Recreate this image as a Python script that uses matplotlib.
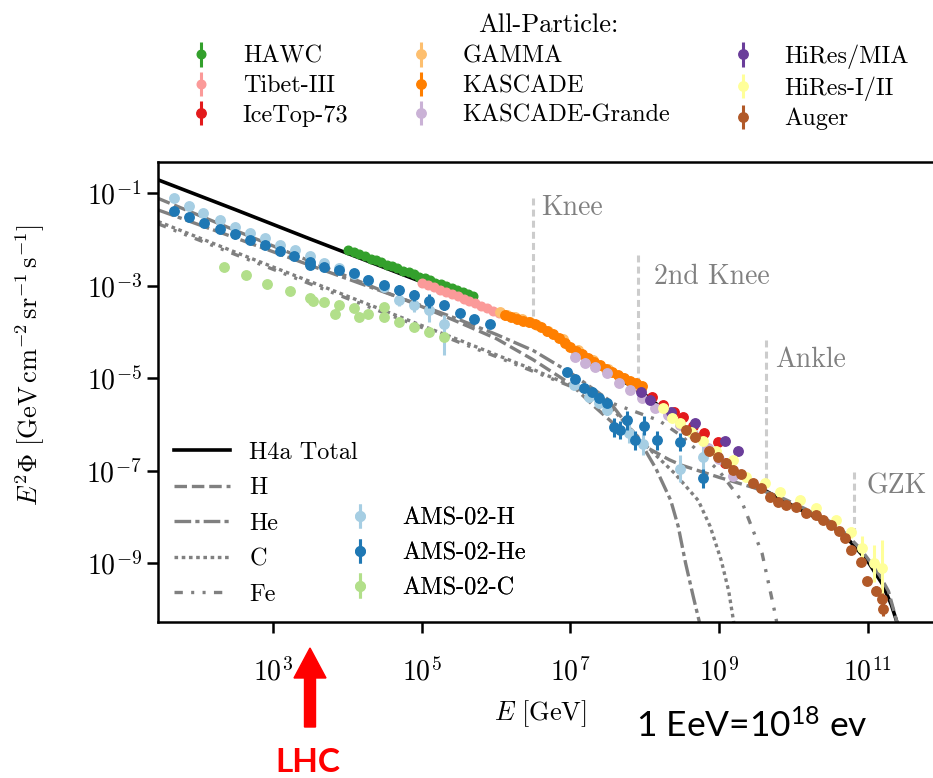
import matplotlib
matplotlib.use('Agg')
import matplotlib.pyplot as plt
import numpy as np
from matplotlib.patches import FancyArrow
from matplotlib.transforms import IdentityTransform

plt.rcParams['font.family'] = ['cmr10', 'DejaVu Serif']
plt.rcParams['mathtext.fontset'] = 'cm'
plt.rcParams['mathtext.rm'] = 'Lato'
plt.rcParams['mathtext.it'] = 'Lato:italic'
plt.rcParams['mathtext.bf'] = 'Lato:bold'
plt.rcParams['axes.formatter.use_mathtext'] = True
plt.rcParams['lines.scale_dashes'] = False

# ---------------- data: log10(E/GeV), log10(E^2 Phi) ----------------
# H4a model curves
total_logE = [1.45, 2.5, 3.5, 4.99, 5.5, 6.0, 6.5, 7.0, 7.5, 8.0, 8.5, 9.0, 9.5, 10.0, 10.5, 10.75, 11.0, 11.2, 11.32, 11.40]
total_logF = [-0.71, -1.36, -1.99, -2.91, -3.24, -3.56, -3.84, -4.30, -4.85, -5.35, -6.00, -6.72, -7.32, -7.76, -8.17, -8.50, -8.95, -9.45, -9.90, -10.30]

H_logE = [1.45, 2.5, 3.5, 4.5, 5.0, 5.5, 6.0, 6.5, 7.0, 7.33, 7.56, 7.87, 8.0, 8.33, 8.5, 9.0, 9.46, 9.8, 10.2, 10.5, 10.7, 10.9, 11.05, 11.17, 11.28, 11.40]
H_logF = [-1.11, -1.81, -2.47, -3.13, -3.45, -3.79, -4.14, -4.60, -5.12, -5.62, -5.95, -6.35, -6.47, -6.76, -6.88, -7.14, -7.36, -7.55, -7.85, -8.10, -8.35, -8.68, -9.00, -9.28, -9.60, -10.30]

He_logE = [1.45, 2.5, 3.5, 4.5, 5.0, 5.5, 6.0, 6.5, 7.0, 7.5, 7.95, 8.15, 8.35, 8.45, 8.55, 8.65, 8.74]
He_logF = [-1.36, -1.97, -2.56, -3.14, -3.43, -3.73, -4.05, -4.40, -4.88, -5.45, -6.40, -6.95, -7.64, -8.20, -9.00, -9.70, -10.30]

C_logE = [1.45, 2.5, 3.5, 4.5, 5.0, 5.5, 6.0, 6.5, 7.0, 7.5, 8.05, 8.4, 8.72, 8.88, 9.03, 9.13, 9.20]
C_logF = [-1.61, -2.28, -2.91, -3.54, -3.86, -4.17, -4.49, -4.81, -5.15, -5.55, -6.51, -7.05, -7.64, -8.20, -8.94, -9.60, -10.30]

Fe_logE = [1.45, 2.5, 3.5, 4.5, 5.0, 5.5, 6.0, 6.5, 7.0, 7.5, 8.19, 8.5, 9.0, 9.30, 9.58, 9.74, 9.78]
Fe_logF = [-1.66, -2.33, -2.96, -3.59, -3.90, -4.22, -4.53, -4.85, -5.17, -5.50, -5.91, -6.25, -7.00, -7.64, -8.79, -9.98, -10.30]

# all-particle measurements
hawc_logE = [4.01, 4.09, 4.16, 4.23, 4.31, 4.38, 4.45, 4.53, 4.60, 4.67, 4.74, 4.82, 4.89, 4.96, 5.04, 5.11, 5.18, 5.26, 5.33, 5.40, 5.47, 5.55, 5.62, 5.69]
hawc_logF = [-2.23, -2.27, -2.32, -2.36, -2.41, -2.45, -2.49, -2.54, -2.58, -2.62, -2.67, -2.71, -2.75, -2.80, -2.84, -2.88, -2.93, -2.97, -3.01, -3.05, -3.10, -3.14, -3.18, -3.23]

tibet_logE = [5.00, 5.08, 5.16, 5.24, 5.32, 5.40, 5.48, 5.56, 5.64, 5.72, 5.80, 5.88, 5.96, 6.04, 6.12]
tibet_logF = [-2.93, -2.98, -3.03, -3.08, -3.13, -3.18, -3.23, -3.28, -3.33, -3.38, -3.44, -3.49, -3.54, -3.59, -3.64]

icetop_logE = [7.95, 8.10, 8.25, 8.40, 8.51, 8.65, 8.80, 8.98, 9.08]
icetop_logF = [-5.20, -5.41, -5.58, -5.72, -5.84, -6.02, -6.18, -6.38, -6.84]

gamma_logE = [6.05, 6.15, 6.25, 6.35, 6.45, 6.55, 6.70, 6.90, 7.10, 7.30, 7.50, 7.70, 7.90]
gamma_logF = [-3.57, -3.62, -3.67, -3.72, -3.78, -3.85, -3.97, -4.15, -4.38, -4.60, -4.80, -5.00, -5.15]

kascade_logE = [6.12, 6.20, 6.28, 6.36, 6.44, 6.52, 6.60, 6.68, 6.76, 6.84, 6.92, 7.00, 7.08, 7.16, 7.24, 7.32, 7.40, 7.48, 7.56, 7.64, 7.72, 7.80, 7.88, 7.96]
kascade_logF = [-3.64, -3.68, -3.71, -3.75, -3.79, -3.83, -3.90, -3.97, -4.05, -4.13, -4.23, -4.32, -4.40, -4.48, -4.56, -4.64, -4.71, -4.79, -4.86, -4.93, -4.99, -5.05, -5.10, -5.16]

kg_logE = [7.06, 7.19, 7.33, 7.49, 7.65, 7.80, 7.96, 8.14, 8.31, 8.48, 8.65, 8.85, 9.00, 9.19]
kg_logF = [-4.53, -4.66, -4.75, -4.88, -5.10, -5.25, -5.42, -5.65, -5.80, -6.00, -6.20, -6.50, -6.75, -7.10]

hiresmia_logE = [7.95, 8.07, 8.35, 8.67, 9.08, 9.25]
hiresmia_logF = [-5.30, -5.47, -5.72, -5.97, -6.35, -6.57]

hires_logE = [8.24, 8.37, 8.48, 8.62, 8.78, 8.96, 9.19, 9.36, 9.62, 9.82, 10.09, 10.31, 10.57, 10.77, 10.92, 11.08, 11.19]
hires_logF = [-5.65, -5.86, -5.97, -6.15, -6.35, -6.56, -6.77, -7.14, -7.27, -7.46, -7.64, -7.81, -8.07, -8.33, -8.66, -9.00, -9.09]
hires_err = [0.04, 0.04, 0.04, 0.04, 0.04, 0.04, 0.04, 0.05, 0.05, 0.05, 0.05, 0.06, 0.08, 0.12, 0.25, 0.40, 0.60]

auger_logE = [8.55, 8.67, 8.87, 8.98, 9.09, 9.19, 9.29, 9.46, 9.56, 9.69, 9.79, 9.90, 10.03, 10.17, 10.30, 10.40, 10.50, 10.61, 10.70, 10.78, 10.91, 10.99, 11.11, 11.19, 11.21]
auger_logF = [-6.12, -6.27, -6.56, -6.71, -6.84, -6.99, -7.06, -7.27, -7.38, -7.57, -7.68, -7.73, -7.79, -7.90, -7.96, -8.07, -8.18, -8.29, -8.46, -8.72, -8.98, -9.37, -9.59, -9.76, -9.98]
auger_err = [0.02]*20 + [0.05, 0.08, 0.10, 0.12, 0.15]

# AMS-02 (and other direct) measurements
amsH_logE = [1.67, 1.87, 2.06, 2.28, 2.48, 2.68, 2.89, 3.09, 3.29, 3.49, 3.68, 3.89, 4.09, 4.28, 4.49, 4.69, 4.90, 5.10, 5.30, 7.05, 7.25, 7.38, 7.49, 7.79, 7.97, 8.48, 8.78]
amsH_logF = [-1.11, -1.27, -1.43, -1.58, -1.72, -1.85, -1.97, -2.12, -2.23, -2.36, -2.50, -2.62, -2.75, -2.88, -3.02, -3.31, -3.42, -3.53, -3.82, -5.15, -5.41, -5.54, -5.69, -6.19, -6.41, -6.95, -6.71]
amsH_errlo = [0.03]*14 + [0.10, 0.12, 0.15, 0.25, 0.68, 0.10, 0.10, 0.10, 0.10, 0.20, 0.25, 0.30, 0.30]
amsH_errhi = [0.03]*14 + [0.10, 0.12, 0.15, 0.20, 0.20, 0.10, 0.10, 0.10, 0.10, 0.20, 0.25, 0.30, 0.30]

amsHe_logE = [1.67, 1.87, 2.07, 2.28, 2.48, 2.68, 2.89, 3.09, 3.28, 3.49, 3.49, 3.68, 3.88, 4.08, 4.28, 4.49, 4.69, 4.90, 5.10, 5.30, 5.51, 5.70, 5.91, 6.95, 7.06, 7.18, 7.29, 7.38, 7.49, 7.58, 7.67, 7.76, 7.87, 7.99, 8.17, 8.48, 8.78]
amsHe_logF = [-1.38, -1.51, -1.65, -1.78, -1.88, -2.00, -2.12, -2.24, -2.36, -2.48, -2.55, -2.59, -2.65, -2.73, -2.88, -2.99, -3.09, -3.20, -3.32, -3.42, -3.58, -3.71, -3.83, -4.87, -5.01, -5.20, -5.30, -5.43, -5.54, -6.06, -6.12, -5.91, -6.34, -6.02, -6.34, -6.38, -7.16]
amsHe_err = [0.03]*15 + [0.10, 0.10, 0.12, 0.15, 0.10, 0.05, 0.05, 0.05, 0.05, 0.05, 0.05, 0.05, 0.05, 0.05, 0.20, 0.20, 0.20, 0.20, 0.20, 0.20, 0.20, 0.20]

amsC_logE = [2.34, 2.63, 2.91, 3.22, 3.49, 3.54, 3.68, 3.83, 3.88, 4.09, 4.15, 4.28, 4.49, 4.49, 4.69, 4.90, 5.10, 5.30]
amsC_logF = [-2.60, -2.77, -2.95, -3.11, -3.27, -3.32, -3.35, -3.60, -3.42, -3.49, -3.67, -3.60, -3.45, -3.67, -3.78, -3.89, -4.00, -4.10]

# feature markers
feature_names = ['Knee', '2nd Knee', 'Ankle', 'GZK']
feature_logE = [6.50, 7.91, 9.63, 10.82]
feature_top = [-1.10, -2.34, -4.18, -7.03]
feature_bottom = [-3.68, -5.10, -7.27, -8.29]
feature_text_logE = [6.61, 8.13, 9.75, 10.99]
feature_text_logF = [-1.32, -2.81, -4.61, -7.34]

xtick_exp = [3, 5, 7, 9, 11]
ytick_exp = [-1, -3, -5, -7, -9]

# ---------------- figure ----------------
W, H = 933, 778
fig = plt.figure(figsize=(W / 100, H / 100), dpi=100)
ax = fig.add_axes([158.3 / W, 1 - 621.7 / H, (932 - 158.3) / W, (621.7 - 161.7) / H])
ax.set_xscale('log')
ax.set_yscale('log')
ax.set_xlim(10 ** 1.452, 10 ** 11.866)
ax.set_ylim(10 ** -10.26, 10 ** -0.317)

def P(a):
    return 10 ** np.asarray(a, dtype=float)

gray = '#808080'
lw = 2.4
ax.plot(P(total_logE), P(total_logF), color='black', lw=2.6, zorder=2, label='H4a Total')
ax.plot(P(H_logE), P(H_logF), color=gray, lw=lw, dashes=(9, 3.5), zorder=2.1, label='H')
ax.plot(P(He_logE), P(He_logF), color=gray, lw=lw, dashes=(12, 3, 3, 3), zorder=2.1, label='He')
ax.plot(P(C_logE), P(C_logF), color=gray, lw=lw, dashes=(2.6, 2.6), zorder=2.1, label='C')
ax.plot(P(Fe_logE), P(Fe_logF), color=gray, lw=lw, dashes=(6, 6, 2.2, 6, 2.2, 6), zorder=2.1, label='Fe')

for xe, yt, yb in zip(feature_logE, feature_top, feature_bottom):
    ax.plot([10 ** xe, 10 ** xe], [10 ** yt, 10 ** yb], color='#cccccc', lw=2.2, dashes=(5, 3), zorder=1)
for name, xe, ye in zip(feature_names, feature_text_logE, feature_text_logF):
    ax.text(10 ** xe, 10 ** ye, name, color='#808080', fontsize=20, va='center', ha='left')

def ebar(logE, logF, color, label, errlo=0.03, errhi=None, ms=6.8, z=3):
    F = P(logF)
    elo = np.broadcast_to(np.asarray(errlo, float), F.shape)
    ehi = elo if errhi is None else np.broadcast_to(np.asarray(errhi, float), F.shape)
    yerr = [F - F * 10 ** (-elo), F * 10 ** ehi - F]
    return ax.errorbar(P(logE), F, yerr=yerr, fmt='o', color=color, mec=color, ms=ms,
                       elinewidth=2.2, capsize=0, label=label, zorder=z)

h_amsH = ebar(amsH_logE, amsH_logF, '#a6cee3', 'AMS-02-H', amsH_errlo, amsH_errhi, z=3)
h_amsHe = ebar(amsHe_logE, amsHe_logF, '#1f78b4', 'AMS-02-He', amsHe_err, z=3.1)
h_amsC = ebar(amsC_logE, amsC_logF, '#b2df8a', 'AMS-02-C', 0.03, z=3)

h_hawc = ebar(hawc_logE, hawc_logF, '#33a02c', 'HAWC', 0.02, ms=6.2, z=3.2)
h_tibet = ebar(tibet_logE, tibet_logF, '#fb9a99', 'Tibet-III', 0.02, ms=6.2, z=3.2)
h_icetop = ebar(icetop_logE, icetop_logF, '#e31a1c', 'IceTop-73', 0.05, ms=6.8, z=3.2)
h_gamma = ebar(gamma_logE, gamma_logF, '#fdbf6f', 'GAMMA', 0.03, ms=6.8, z=3.2)
h_kascade = ebar(kascade_logE, kascade_logF, '#ff7f00', 'KASCADE', 0.03, ms=6.8, z=3.3)
h_kg = ebar(kg_logE, kg_logF, '#cab2d6', 'KASCADE-Grande', 0.04, ms=6.8, z=3.3)
h_mia = ebar(hiresmia_logE, hiresmia_logF, '#6a3d9a', 'HiRes/MIA', 0.06, ms=6.8, z=3.3)
h_hires = ebar(hires_logE, hires_logF, '#ffff99', 'HiRes-I/II', hires_err, ms=6.8, z=3.4)
h_auger = ebar(auger_logE, auger_logF, '#b15928', 'Auger', auger_err, ms=6.8, z=3.5)

# axes styling
for s in ['left', 'bottom', 'top']:
    ax.spines[s].set_linewidth(1.8)
ax.spines['right'].set_visible(False)
ax.set_xticks(P(xtick_exp))
ax.set_xticklabels([r'$10^{%d}$' % e for e in xtick_exp])
ax.set_yticks(P(ytick_exp))
ax.set_yticklabels([r'$10^{%d}$' % e for e in ytick_exp])
ax.minorticks_off()
ax.tick_params(axis='both', which='major', direction='out', length=8, width=1.8,
               labelsize=20, top=False, right=False)
ax.tick_params(axis='x', pad=18)
ax.tick_params(axis='y', pad=4)
ax.set_xlabel(r'$E\ [\mathrm{GeV}]$', fontsize=19)
ax.set_ylabel(r'$E^2\Phi\ [\mathrm{GeV}\,\mathrm{cm}^{-2}\,\mathrm{sr}^{-1}\,\mathrm{s}^{-1}]$', fontsize=19)
ax.xaxis.label.set_va('center')
ax.yaxis.label.set_va('center')
ax.xaxis.set_label_coords((541 - 158.3) / 774, (621.7 - 714) / 460)
ax.yaxis.set_label_coords((30 - 158.3) / 774, (621.7 - 365) / 460)

# legends
line_handles = ax.get_lines()[:5]
leg1 = ax.legend(line_handles, ['H4a Total', 'H', 'He', 'C', 'Fe'], loc='lower left',
                 bbox_to_anchor=(0.0, 0.0), frameon=False, fontsize=17.5,
                 handlelength=2.3, handletextpad=0.8, labelspacing=0.55, borderaxespad=0.25)
ax.add_artist(leg1)
leg2 = ax.legend([h_amsH, h_amsHe, h_amsC], ['AMS-02-H', 'AMS-02-He', 'AMS-02-C'],
                 loc='lower left', bbox_to_anchor=(0.233, 0.028), frameon=False, fontsize=17.5,
                 handlelength=1.0, handletextpad=1.2, labelspacing=0.52, borderaxespad=0.0)
ax.add_artist(leg2)

top_handles = [h_hawc, h_tibet, h_icetop, h_gamma, h_kascade, h_kg, h_mia, h_hires, h_auger]
top_labels = ['HAWC', 'Tibet-III', 'IceTop-73', 'GAMMA', 'KASCADE', 'KASCADE-Grande',
              'HiRes/MIA', 'HiRes-I/II', 'Auger']
leg3 = fig.legend(top_handles, top_labels, ncol=3, loc='upper center', bbox_to_anchor=(548 / W, 1.0),
                  frameon=False, fontsize=17.5, title='All-Particle:', title_fontsize=19,
                  handlelength=1.2, handletextpad=1.1, columnspacing=2.4, labelspacing=0.3,
                  borderaxespad=0.15)

# annotations outside the axes
arrow = FancyArrow(310, H - 727, 0, 727 - 648, width=11, head_width=32, head_length=30,
                   length_includes_head=True, color='#ff0000', transform=IdentityTransform())
fig.add_artist(arrow)
fig.text(308 / W, 1 - 762 / H, 'LHC', color='#ff0000', fontsize=24, fontweight='bold',
         family='Lato', ha='center', va='center')
fig.text(636 / W, 1 - 726 / H, r'1 EeV=10$^{\mathrm{18}}$ ev', fontsize=25.5, family='Lato',
         ha='left', va='center', math_fontfamily='custom')

fig.savefig('out.png', dpi=100)
